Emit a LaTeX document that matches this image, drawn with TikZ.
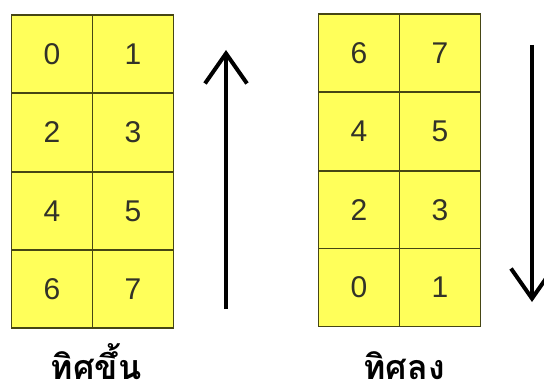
\documentclass[tikz,border=0pt]{standalone}
\usepackage{fontspec}
\setmainfont{Liberation Sans}
\newfontfamily\thaifont[Script=Thai]{Loma}
\usetikzlibrary{arrows.meta}
\definecolor{cellfill}{RGB}{255,255,90}
\definecolor{cellline}{RGB}{70,70,20}
\definecolor{digit}{RGB}{50,50,40}
\tikzset{
  cell/.style={draw=cellline, fill=cellfill, line width=1.2pt, minimum width=81pt, minimum height=78pt, inner sep=0pt, text=digit, font=\fontsize{30}{30}\selectfont},
  bigarrow/.style={line width=4pt, -{Straight Barb[length=30pt,width=42pt,line width=4pt]}},
  thailabel/.style={anchor=base, font=\thaifont\bfseries\fontsize{34}{34}\selectfont, inner sep=0pt, text depth=0pt}
}
\begin{document}
\begin{tikzpicture}[x=1pt,y=-1pt]
\useasboundingbox (0,0) rectangle (544,385);
\fill[white] (0,0) rectangle (544,385);
% left grid
\node[cell] (L0) at (52,54) {0};
\node[cell] (L1) at (133,54) {1};
\node[cell] (L2) at (52,132.5) {2};
\node[cell] (L3) at (133,132.5) {3};
\node[cell] (L4) at (52,211.5) {4};
\node[cell] (L5) at (133,211.5) {5};
\node[cell] (L6) at (52,289) {6};
\node[cell] (L7) at (133,289) {7};
% right grid
\node[cell] (R6) at (359,53) {6};
\node[cell] (R7) at (440,53) {7};
\node[cell] (R4) at (359,131.5) {4};
\node[cell] (R5) at (440,131.5) {5};
\node[cell] (R2) at (359,210) {2};
\node[cell] (R3) at (440,210) {3};
\node[cell] (R0) at (359,287.5) {0};
\node[cell] (R1) at (440,287.5) {1};
% arrows
\coordinate (upS) at (226,309);
\coordinate (upE) at (226,50);
\coordinate (dnS) at (532,45);
\coordinate (dnE) at (532,302);
\draw[bigarrow] (upS) -- (upE);
\draw[bigarrow] (dnS) -- (dnE);
% labels
\node[thailabel] (labL) at (96,379) {ทิศขึ้น};
\node[thailabel] (labR) at (404,379) {ทิศลง};
\end{tikzpicture}
\end{document}
